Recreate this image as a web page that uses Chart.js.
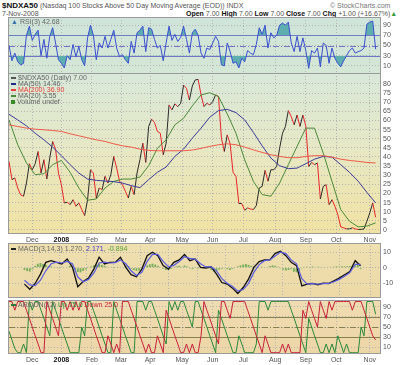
<!DOCTYPE html>
<html>
<head>
<meta charset="utf-8">
<script src="https://cdn.jsdelivr.net/npm/chart.js@4.4.0/dist/chart.umd.min.js"></script>
<style>
    body { margin: 0; background: #fff; width: 400px; height: 365px; overflow: hidden; position: relative; font-family: "Liberation Sans", Arial, sans-serif; }
    .pane { position: absolute; left: 0; width: 400px; }
    .txt { position: absolute; font-size: 7px; line-height: 8px; color: #555; white-space: nowrap; }
    .txt b { color: #111; }
    .leg { position: absolute; font-size: 7px; line-height: 6px; color: #666; white-space: nowrap; }
    .leg i { display: inline-block; width: 5px; height: 2px; margin: 0 2px 1px 0; vertical-align: middle; }
</style>
</head>
<body>

<div class="txt" style="left:2px;top:2px;"><b style="font-size:8px;">$NDXA50</b> (Nasdaq 100 Stocks Above 50 Day Moving Average (EOD)) INDX</div>
<div class="txt" style="left:330px;top:2px;color:#777;">&copy; StockCharts.com</div>
<div class="txt" style="left:2px;top:10px;">7-Nov-2008</div>
<div class="txt" style="left:186px;top:10px;"><b>Open</b> 7.00 <b>High</b> 7.00 <b>Low</b> 7.00 <b>Close</b> 7.00 <b>Chg</b> +1.00 (+16.67%)<span style="color:#3a9a3a;">&#9650;</span></div>

<div class="pane" style="top:17px;height:57px;"><canvas id="rsi" width="400" height="57"></canvas></div>
<div class="pane" style="top:73px;height:172px;"><canvas id="main" width="400" height="172"></canvas></div>
<div class="pane" style="top:243px;height:55px;"><canvas id="macd" width="400" height="55"></canvas></div>
<div class="pane" style="top:300px;height:65px;"><canvas id="aroon" width="400" height="65"></canvas></div>

<div class="leg" style="left:11px;top:19px;"><span style="color:#3a6fb0;">&#9650;</span> RSI(3) 42.68</div>
<div class="leg" style="left:11px;top:75px;"><i style="background:#555;"></i>$NDXA50 (Daily) 7.00</div>
<div class="leg" style="left:11px;top:81px;"><i style="background:#1e2a8a;"></i>MA(50) 14.46</div>
<div class="leg" style="left:11px;top:87px;color:#e8403a;"><i style="background:#e8403a;"></i>MA(200) 36.90</div>
<div class="leg" style="left:11px;top:93px;"><i style="background:#4a8a3a;"></i>MA(20) 3.55</div>
<div class="leg" style="left:11px;top:99px;"><i style="background:#3a8a2a;height:4px;width:4px;"></i>Volume undef</div>
<div class="leg" style="left:11px;top:246px;"><i style="background:#222;"></i>MACD(3,14,3) 1.270, <span style="color:#3a3ad0;">2.171</span>, <span style="color:#5aa03a;">-0.894</span></div>
<div class="leg" style="left:11px;top:302px;"><i style="background:#2a7a3a;"></i>AROON(12) <span style="color:#2a8a3a;">Up 75.0</span> <span style="color:#c8283a;">Down 25.0</span></div>

<script>
// x values are trading days counted from 8-Nov-2007
var monthTicks = [16, 36, 57, 77, 97, 119, 140, 161, 183, 204, 225, 248];
var monthLabels = ['Dec', '2008', 'Feb', 'Mar', 'Apr', 'May', 'Jun', 'Jul', 'Aug', 'Sep', 'Oct', 'Nov'];

var priceTicks = [0, 5, 10, 15, 20, 25, 30, 35, 40, 45, 50, 55, 60, 65, 70, 75, 80];
var rsiTicks = [10, 30, 50, 70, 90];
var macdTicks = [-10, 0, 10];
var aroonTicks = [10, 30, 50, 70, 90];
var rsiLevels = [70, 50, 30];
var aroonLevels = [70, 50, 30];

// close, every 2nd trading day
var closeStep = 2;
var closes = [
    37.6, 27.6, 28.5, 23.0, 19.2, 18.5, 25.7, 36.3, 33.0, 36.3,
    43.0, 31.2, 38.5, 27.9, 39.4, 48.5, 44.3, 31.2, 24.8, 14.8,
    15.2, 13.9, 16.6, 13.0, 14.8, 11.2, 7.9, 16.6, 33.0, 31.2,
    17.5, 23.0, 22.1, 29.4, 25.7, 30.3, 40.3, 33.9, 26.7, 24.8,
    21.2, 17.5, 23.9, 19.4, 31.2, 38.5, 47.6, 37.0, 56.7, 60.7,
    58.9, 54.0, 53.0, 41.2, 47.6, 68.5, 65.8, 69.1, 67.6, 69.4,
    79.4, 77.6, 71.2, 78.9, 82.2, 82.5, 74.0, 67.6, 69.4, 68.5,
    70.3, 74.0, 73.1, 50.3, 43.0, 52.1, 47.2, 31.6, 29.4, 14.5,
    14.5, 10.8, 12.1, 11.5, 11.2, 13.4, 23.0, 23.9, 32.7, 26.7,
    33.0, 33.0, 34.8, 44.8, 53.0, 56.7, 65.4, 62.1, 57.6, 63.0,
    56.7, 63.0, 57.0, 34.8, 37.0, 35.8, 36.7, 17.0, 23.9, 24.8,
    13.9, 16.6, 13.0, 8.5, 1.7, 1.2, 0.6, 0.6, 1.2, 0.6,
    0.3, 0.3, 0.6, 4.8, 9.4, 14.8, 7.0
];

// moving averages, every 6th trading day
var maStep = 6;
var ma50 = [
    63.4, 60.3, 57.0, 53.0, 49.4, 45.4, 40.7, 35.8, 31.2, 27.9,
    27.2, 26.8, 26.5, 25.7, 24.3, 23.2, 27.6, 31.6, 34.5, 40.3,
    44.3, 50.3, 55.8, 61.8, 65.4, 66.1, 64.3, 60.3, 53.4, 46.1,
    39.4, 35.2, 33.6, 33.9, 36.3, 38.8, 40.3, 39.9, 35.8, 31.6,
    26.7, 20.6, 14.8
];
var ma200 = [
    57.6, 56.7, 55.8, 55.2, 54.9, 54.5, 54.0, 52.7, 51.6, 50.5,
    49.4, 48.5, 47.2, 46.1, 45.4, 44.3, 43.6, 43.4, 43.4, 43.4,
    43.4, 43.8, 44.7, 45.8, 46.7, 47.2, 46.7, 45.4, 43.9, 42.5,
    41.2, 40.3, 39.6, 39.6, 40.3, 40.7, 40.7, 39.9, 38.8, 38.1,
    37.6, 37.0, 36.7
];
var ma20 = [
    60.3, 46.7, 36.7, 30.3, 30.8, 35.8, 38.1, 31.6, 23.0, 16.3,
    17.0, 23.0, 26.6, 27.9, 27.9, 29.0, 35.2, 44.8, 49.4, 57.6,
    61.2, 68.0, 74.0, 75.2, 73.1, 63.6, 53.0, 38.5, 26.6, 19.4,
    18.5, 25.7, 35.8, 45.8, 55.8, 55.8, 42.1, 26.6, 11.2, 4.8,
    1.7, 2.1, 3.9
];

// RSI(3), every 2nd trading day
var rsiStep = 2;
var rsi3 = [
    50, 20, 35, 18, 12, 15, 70, 88, 60, 72,
    80, 30, 62, 25, 68, 85, 55, 22, 15, 6,
    30, 22, 52, 28, 48, 22, 10, 65, 90, 70,
    22, 55, 45, 68, 45, 62, 80, 45, 28, 32,
    22, 15, 58, 35, 75, 80, 88, 38, 85, 82,
    62, 45, 50, 20, 55, 88, 60, 72, 58, 66,
    88, 62, 35, 75, 82, 70, 35, 25, 45, 42,
    55, 68, 58, 12, 10, 55, 38, 15, 18, 6,
    25, 18, 40, 35, 32, 52, 85, 72, 90, 45,
    75, 65, 70, 90, 94, 90, 96, 55, 38, 68,
    38, 65, 40, 5, 40, 35, 45, 8, 55, 50,
    15, 45, 25, 15, 8, 20, 30, 40, 45, 35,
    38, 40, 45, 92, 96, 98, 42.68
];

// MACD(3,14,3): lines every 4th day, histogram every 2nd day
var macdStep = 4;
var macdLine = [
    -10.5, -13.8, -10.1, -4.1, 3.4, 4.5, 3.4, 2.4, 5.6, 0.2,
    -12.2, -8.8, -6.7, -0.9, 6.7, 2.4, 3.4, 3.4, 6.7, 0.2,
    -4.5, -5.8, -0.9, 7.7, 9.9, 7.7, 1.3, -0.9, 3.4, 5.0,
    8.4, 4.5, 5.6, 0.2, -0.2, 0.6, -4.1, -9.5, -10.5, -13.1,
    -16.5, -12.7, -7.3, 0.2, 3.9, 5.0, 5.0, 9.2, 10.5, 7.7,
    3.4, 1.3, -11.6, -10.5, -10.1, -10.9, -9.9, -10.1, -8.4, -6.7,
    -4.5, -2.4, 4.5, 1.27
];
var macdSignal = [
    -8, -11, -11.5, -8, -2, 2.5, 3.5, 3, 4, 2.5,
    -6, -9, -7.5, -3.5, 3, 3.5, 3, 3.2, 5, 2.5,
    -2, -5, -3, 4, 8.5, 8.5, 4, 0.5, 1.5, 4,
    7, 6, 5.5, 2.5, 0.5, 0.5, -2, -7, -10, -12,
    -15, -14, -10, -3, 2, 4.5, 5, 7.5, 10, 9,
    5, 2.5, -7, -10.5, -10.2, -10.6, -10.2, -10.1, -9, -7.5,
    -5.5, -3.2, 2.2, 2.171
];
var histStep = 2;
var macdHist = [
    -1.5, -2.2, -2.5, -1.0, 1.2, 2.5, 3.0, 2.4, 1.8, 1.0,
    0.8, 0.4, 0.2, -0.5, 0.6, 0.3, -0.4, 1.2, 0.8, -1.2,
    -2.8, -3.0, -2.0, -1.2, 0.5, 0.8, 1.5, 2.0, 2.5, 1.8,
    1.2, 0.6, -0.3, 0.2, 0.4, 0.5, 0.3, -0.2, 1.2, 1.0,
    -0.8, -1.5, -2.0, -1.8, -0.6, -0.4, 1.5, 2.2, 2.6, 2.0,
    1.2, 0.5, -0.8, -1.5, -1.2, -0.8, 0.5, 0.9, 1.2, 0.6,
    1.4, 0.8, -0.5, -0.9, 0.2, -0.6, -0.4, -0.2, 0.5, -0.5,
    -1.5, -2.4, -2.0, -1.2, -0.8, -0.5, -1.0, -1.5, -0.8, 0.4,
    0.8, 1.5, 2.0, 2.4, 1.8, 1.2, 0.8, 0.5, -0.4, 0.6,
    0.3, 0.4, 1.0, 1.5, 1.2, 0.6, -0.5, -1.2, -1.8, -1.5,
    -1.0, -2.6, -3.0, -1.8, -0.5, 0.5, 0.6, -0.4, 0.8, -0.3,
    0.6, 0.2, 0.4, 0.3, 0.3, 0.5, 0.6, 0.8, 0.7, 0.9,
    0.8, 0.9, 1.0, 1.2, 1.5, 2.0, -0.894
];

// AROON(12), every 2nd trading day
var aroonStep = 2;
var aroonUp = [
    42, 25, 8, 0, 0, 17, 0, 100, 83, 100,
    100, 83, 67, 50, 33, 100, 83, 67, 50, 33,
    17, 0, 0, 0, 0, 50, 33, 100, 100, 83,
    67, 50, 33, 17, 0, 0, 100, 83, 67, 50,
    33, 17, 0, 0, 100, 100, 100, 83, 100, 100,
    83, 67, 50, 33, 17, 100, 83, 100, 83, 100,
    100, 83, 67, 50, 100, 100, 83, 67, 50, 33,
    17, 0, 83, 67, 50, 33, 17, 0, 0, 33,
    17, 0, 0, 0, 0, 17, 100, 100, 100, 83,
    100, 100, 100, 100, 100, 100, 100, 83, 67, 50,
    33, 17, 0, 67, 50, 33, 17, 0, 0, 17,
    0, 17, 0, 33, 17, 0, 17, 0, 0, 0,
    0, 50, 33, 100, 100, 100, 75
];
var aroonDown = [
    100, 100, 83, 100, 100, 100, 83, 67, 50, 33,
    17, 0, 0, 100, 83, 67, 50, 33, 100, 100,
    83, 100, 83, 100, 83, 100, 100, 83, 67, 50,
    33, 17, 0, 0, 33, 17, 0, 17, 0, 100,
    100, 100, 83, 67, 50, 33, 17, 0, 17, 0,
    0, 33, 17, 0, 83, 67, 50, 33, 17, 0,
    0, 17, 0, 17, 0, 0, 33, 100, 83, 67,
    50, 33, 17, 100, 100, 83, 67, 100, 100, 100,
    100, 100, 83, 67, 50, 33, 17, 0, 33, 17,
    0, 0, 0, 0, 17, 0, 17, 0, 0, 0,
    0, 83, 67, 100, 83, 67, 50, 100, 83, 67,
    100, 83, 100, 100, 100, 100, 100, 100, 83, 100,
    100, 100, 83, 67, 50, 33, 25
];

(function () {
    'use strict';

    var FONT = 'Liberation Sans, Arial, sans-serif';
    var GRID = '#b4b4b4';

    function toPoints(values, step) {
        return values.map(function (v, i) { return { x: i * step, y: v }; });
    }

    /* ---- background, frame and level lines ---- */
    var panelPlugin = {
        id: 'panel',
        beforeDraw: function (chart, args, opts) {
            var a = chart.chartArea, ctx = chart.ctx;
            var g = ctx.createLinearGradient(0, a.top, 0, a.bottom);
            opts.stops.forEach(function (s) { g.addColorStop(s[0], s[1]); });
            ctx.save();
            ctx.fillStyle = g;
            ctx.fillRect(a.left, a.top, a.right - a.left, a.bottom - a.top);
            ctx.restore();
        },
        beforeDatasetsDraw: function (chart, args, opts) {
            if (!opts.levels) return;
            var a = chart.chartArea, ctx = chart.ctx, y = chart.scales.y;
            ctx.save();
            opts.levels.forEach(function (v) {
                var py = Math.round(y.getPixelForValue(v)) + 0.5;
                ctx.strokeStyle = opts.levelColor;
                ctx.lineWidth = 1;
                ctx.setLineDash(v === 50 ? [6, 2, 1, 2] : []);
                ctx.beginPath();
                ctx.moveTo(a.left, py);
                ctx.lineTo(a.right, py);
                ctx.stroke();
            });
            ctx.restore();
        },
        afterDraw: function (chart) {
            var a = chart.chartArea, ctx = chart.ctx;
            ctx.save();
            ctx.strokeStyle = '#9a9a9a';
            ctx.lineWidth = 1;
            ctx.strokeRect(a.left - 0.5, a.top + 0.5, a.right - a.left + 1, a.bottom - a.top - 1);
            ctx.restore();
        }
    };

    function xScale(showLabels) {
        return {
            type: 'linear',
            min: 0,
            max: 255,
            afterBuildTicks: function (s) {
                s.ticks = monthTicks.map(function (v) { return { value: v }; });
            },
            afterFit: function (s) {
                s.height = showLabels ? 11 : 0;
                s.paddingLeft = 0;
                s.paddingRight = 0;
            },
            ticks: {
                display: showLabels,
                autoSkip: false,
                maxRotation: 0,
                padding: 2,
                color: function (c) { return c.tick && c.tick.label === '2008' ? '#111' : '#555'; },
                font: function (c) {
                    var bold = c.tick && c.tick.label === '2008';
                    return { family: FONT, size: 7, weight: bold ? 'bold' : 'normal' };
                },
                callback: function (v) { return monthLabels[monthTicks.indexOf(v)]; }
            },
            grid: { color: GRID, drawTicks: false },
            border: { display: false, dash: [1, 2] }
        };
    }

    function yScale(min, max, ticks) {
        return {
            position: 'right',
            min: min,
            max: max,
            afterBuildTicks: function (s) {
                s.ticks = ticks.map(function (v) { return { value: v }; });
            },
            afterFit: function (s) {
                s.width = 20;
                s.paddingTop = 0;
                s.paddingBottom = 0;
            },
            ticks: { autoSkip: false, padding: 3, color: '#555', font: { family: FONT, size: 7 } },
            grid: { color: GRID, drawTicks: false },
            border: { display: false, dash: [1, 2] }
        };
    }

    function baseOptions(x, y, panel) {
        return {
            responsive: false,
            animation: false,
            devicePixelRatio: 1,
            layout: { padding: { left: 9, right: 0, top: 0, bottom: 0 } },
            elements: { point: { radius: 0 }, line: { tension: 0 } },
            plugins: { legend: { display: false }, tooltip: { enabled: false }, panel: panel },
            scales: { x: x, y: y }
        };
    }

    /* ---- RSI ---- */
    var rsiPts = toPoints(rsi3, rsiStep);
    new Chart(document.getElementById('rsi'), {
        type: 'line',
        data: {
            datasets: [
                { data: rsiPts, borderColor: '#3b4fd0', borderWidth: 1,
                  fill: { target: { value: 70 }, above: '#5eaeb0', below: 'rgba(0,0,0,0)' } },
                { data: rsiPts, borderColor: 'rgba(0,0,0,0)', borderWidth: 0,
                  fill: { target: { value: 30 }, above: 'rgba(0,0,0,0)', below: '#5eaeb0' } }
            ]
        },
        options: baseOptions(xScale(false), yScale(-6, 106, rsiTicks),
            { stops: [[0, '#cfe4da'], [1, '#d5e7d5']], levels: rsiLevels, levelColor: '#7373c8' }),
        plugins: [panelPlugin]
    });

    /* ---- Price + moving averages ---- */
    new Chart(document.getElementById('main'), {
        type: 'line',
        data: {
            datasets: [
                { data: toPoints(ma200, maStep), borderColor: '#ee5a48', borderWidth: 1 },
                { data: toPoints(ma50, maStep), borderColor: '#3a3a9a', borderWidth: 1 },
                { data: toPoints(ma20, maStep), borderColor: '#4a8a3a', borderWidth: 1 },
                { data: toPoints(closes, closeStep), borderColor: '#222', borderWidth: 1,
                  segment: {
                      borderColor: function (c) { return c.p1.parsed.y < c.p0.parsed.y ? '#e8262a' : '#2a2a2a'; }
                  } }
            ]
        },
        options: baseOptions(xScale(true), yScale(-2.2, 86, priceTicks),
            { stops: [[0, '#d8e8d9'], [0.45, '#e6e8c6'], [1, '#f1e2a2']] }),
        plugins: [panelPlugin]
    });

    /* ---- MACD ---- */
    new Chart(document.getElementById('macd'), {
        type: 'bar',
        data: {
            datasets: [
                { type: 'line', data: toPoints(macdSignal, macdStep), borderColor: '#5a5ae0', borderWidth: 1.2 },
                { type: 'line', data: toPoints(macdLine, macdStep), borderColor: '#111', borderWidth: 1.3 },
                { type: 'bar', data: toPoints(macdHist, histStep), backgroundColor: '#78ae5a',
                  barPercentage: 1, categoryPercentage: 0.7 }
            ]
        },
        options: baseOptions(xScale(false), yScale(-19.4, 15.8, macdTicks),
            { stops: [[0, '#efe0b0'], [1, '#ecd9a6']] }),
        plugins: [panelPlugin]
    });

    /* ---- Aroon ---- */
    new Chart(document.getElementById('aroon'), {
        type: 'line',
        data: {
            datasets: [
                { data: toPoints(aroonDown, aroonStep), borderColor: '#c8203a', borderWidth: 1 },
                { data: toPoints(aroonUp, aroonStep), borderColor: '#2a8a3a', borderWidth: 1 }
            ]
        },
        options: baseOptions(xScale(true), yScale(-2.6, 103, aroonTicks),
            { stops: [[0, '#f0dcb2'], [1, '#edd6a6']], levels: aroonLevels, levelColor: '#87814f' }),
        plugins: [panelPlugin]
    });
})();
</script>
</body>
</html>
